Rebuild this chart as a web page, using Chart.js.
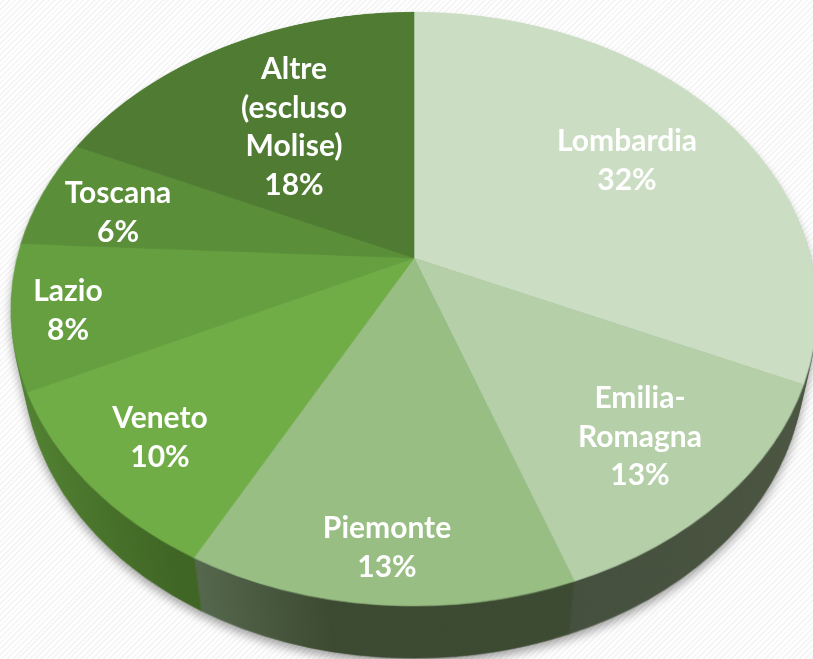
<!DOCTYPE html>
<html lang="it">
<head>
<meta charset="utf-8">
<script src="https://cdn.jsdelivr.net/npm/chart.js@4"></script>
<style>
html,body{margin:0;padding:0;width:813px;height:659px;overflow:hidden;background:#fff}
#stage{position:relative;width:813px;height:659px;overflow:hidden;
  background:repeating-linear-gradient(135deg,#ffffff 0,#ffffff 2px,#f6f6f6 2px,#f6f6f6 4px)}
#wallWrap{position:absolute;left:0;top:0;width:813px;height:659px;filter:drop-shadow(0 5px 5px rgba(0,0,0,.35))}
canvas{position:absolute;left:0;top:0;transform-origin:0 0}
.lbl{position:absolute;transform:translateX(-50%);text-align:center;color:#fff;white-space:nowrap;
  font:700 30px/38.7px Lato,sans-serif}
</style>
</head>
<body>
<div id="stage">
  <div id="wallWrap"></div>
</div>
<script>
const categories = ["Lombardia","Emilia-Romagna","Piemonte","Veneto","Lazio","Toscana","Altre (escluso Molise)"];
const shares = [31.7,12.8,13.3,10.1,7.9,6.0,18.2];
const labelLines = [["Lombardia"],["Emilia-","Romagna"],["Piemonte"],["Veneto"],["Lazio"],["Toscana"],["Altre","(escluso","Molise)"]];
const topColors = ["#CBDDC3","#B5CFA9","#98BE83","#70AD47","#659F40","#5B8E39","#4F7C32"];
const labelAnchors = [[627,120],[640,377],[387,507],[160,397],[68,270],[118,172],[294,48]];

const SIZE = 820, C = SIZE/2, R = 400, k = -0.1717;
const topFace = {cx:414, cy:258, A:397, B:288.2};
const baseFace = {cx:414, cy:315, A:384, B:284.4};
const WALL_LAYERS = 28;

function projection(f){
  const a = f.A/R, b = f.B/R, q = k/R, w0 = 1 - C*q;
  return `matrix3d(${a},0,0,0, ${f.cx*q},${f.cy*q+b},0,${q}, 0,0,1,0, ${f.cx*w0 - C*a},${f.cy*w0 - C*b},0,${w0})`;
}

function pieLayer(parent, face, colors){
  const el = document.createElement("canvas");
  el.width = SIZE; el.height = SIZE;
  el.style.width = SIZE+"px"; el.style.height = SIZE+"px";
  parent.appendChild(el);
  new Chart(el, {
    type:"pie",
    data:{labels:categories, datasets:[{data:shares, backgroundColor:colors, borderColor:colors, borderWidth:0.6, radius:R}]},
    options:{responsive:false, animation:false, layout:{padding:0},
      plugins:{legend:{display:false}, tooltip:{enabled:false}}}
  });
  el.style.transform = projection(face);
  return el;
}

const g = document.createElement("canvas").getContext("2d");
function grad(x0,c0,x1,c1){const l=g.createLinearGradient(x0,0,x1,0);l.addColorStop(0,c0);l.addColorStop(1,c1);return l;}
const wallColors = [
  "#4B5541",
  grad(510,"#434F3D",800,"#4B5541"),
  grad(215,"#56694E",340,"#3C4A32"),
  grad(40,"#528232",206,"#3F6524"),
  "#528232","#528232","#528232"
];

const stage = document.getElementById("stage"), wallWrap = document.getElementById("wallWrap");
for(let n = WALL_LAYERS; n >= 1; n--){
  const t = n/WALL_LAYERS;
  const f = {};
  for(const key in topFace) f[key] = topFace[key] + (baseFace[key]-topFace[key])*t;
  pieLayer(wallWrap, f, wallColors);
}
pieLayer(stage, topFace, topColors);

labelLines.forEach((lines,i)=>{
  const d = document.createElement("div");
  d.className = "lbl";
  d.style.left = labelAnchors[i][0]+"px";
  d.style.top = labelAnchors[i][1]+"px";
  [...lines, Math.round(shares[i])+"%"].forEach(t=>{
    const s = document.createElement("div"); s.textContent = t; d.appendChild(s);
  });
  stage.appendChild(d);
});
</script>
</body>
</html>
